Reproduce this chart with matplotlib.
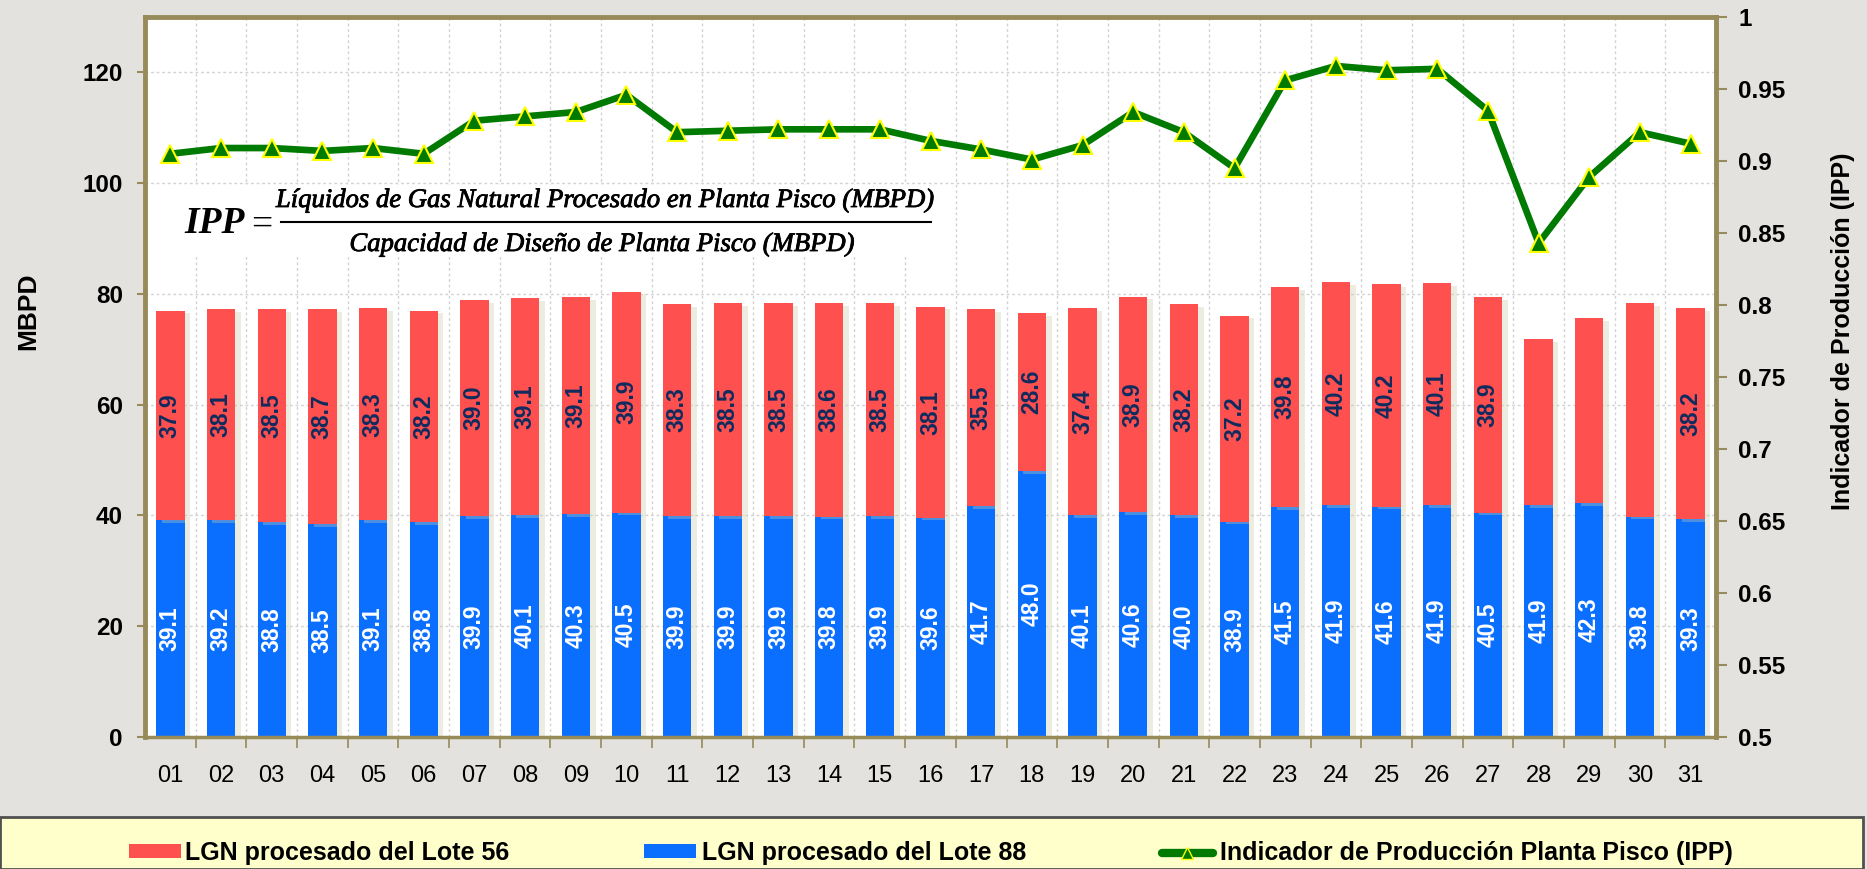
import matplotlib
matplotlib.use("Agg")
import matplotlib.pyplot as plt
import matplotlib.patheffects as pe
from matplotlib.patches import Rectangle
from matplotlib.lines import Line2D
import numpy as np

W, H = 1867, 869

days = ["01", "02", "03", "04", "05", "06", "07", "08", "09", "10",
        "11", "12", "13", "14", "15", "16", "17", "18", "19", "20",
        "21", "22", "23", "24", "25", "26", "27", "28", "29", "30", "31"]
lote88 = [39.1, 39.2, 38.8, 38.5, 39.1, 38.8, 39.9, 40.1, 40.3, 40.5,
          39.9, 39.9, 39.9, 39.8, 39.9, 39.6, 41.7, 48.0, 40.1, 40.6,
          40.0, 38.9, 41.5, 41.9, 41.6, 41.9, 40.5, 41.9, 42.3, 39.8, 39.3]
lote56 = [37.9, 38.1, 38.5, 38.7, 38.3, 38.2, 39.0, 39.1, 39.1, 39.9,
          38.3, 38.5, 38.5, 38.6, 38.5, 38.1, 35.5, 28.6, 37.4, 38.9,
          38.2, 37.2, 39.8, 40.2, 40.2, 40.1, 38.9, 29.9, 33.4, 38.6, 38.2]
# days where the Lote 56 value has no label in the original
unlabeled_56 = ["28", "29", "30"]
ipp = [0.905, 0.909, 0.909, 0.907, 0.909, 0.905, 0.928, 0.931, 0.934, 0.946,
       0.920, 0.921, 0.922, 0.922, 0.922, 0.914, 0.908, 0.901, 0.911, 0.934,
       0.920, 0.895, 0.956, 0.966, 0.963, 0.964, 0.935, 0.843, 0.889, 0.920, 0.912]

RED = "#FF5050"
BLUE = "#0A6EFF"
GREEN = "#007A00"
OLIVE = "#978B5A"
NAVY = "#0F2B5E"
BG = "#E3E2DE"
FONT = "Liberation Sans"


def fx(px):
    return px / W


def fy(py):
    return 1 - py / H


def main() -> None:
    plt.rcParams["font.family"] = FONT
    fig = plt.figure(figsize=(W / 100, H / 100), dpi=100, facecolor=BG)
    ax = fig.add_axes([fx(145), fy(737), fx(1716) - fx(145), fy(17) - fy(737)])
    ax.set_facecolor("white")

    x = np.arange(len(days))
    bw = 0.56
    shadow = [pe.SimplePatchShadow(offset=(4, -2), shadow_rgbFace="#C9CDA8", alpha=0.35),
              pe.Normal()]
    ax.bar(x, lote88, width=bw, color=BLUE, zorder=2, path_effects=shadow)
    ax.bar(x, lote56, width=bw, bottom=lote88, color=RED, zorder=2, path_effects=shadow)

    for i, d in enumerate(days):
        ax.text(x[i], lote88[i] / 2, f"{lote88[i]:.1f}", rotation=90,
                ha="center", va="center", color="white", fontsize=16.5,
                fontweight="bold", zorder=3)
        if d not in unlabeled_56:
            ax.text(x[i], lote88[i] + lote56[i] / 2, f"{lote56[i]:.1f}",
                    rotation=90, ha="center", va="center", color=NAVY,
                    fontsize=16.5, fontweight="bold", zorder=3)

    ax.set_xlim(-0.5, len(days) - 0.5)
    ax.set_ylim(0, 130)
    ax.set_yticks(np.arange(0, 121, 20))
    ax.set_xticks(x)
    ax.set_xticklabels(days, fontsize=17)
    ax.set_xticks(x[:-1] + 0.5, minor=True)
    ax.tick_params(axis="x", which="major", length=0, pad=20)
    ax.tick_params(axis="x", which="minor", length=8, color=OLIVE, width=1.2)
    ax.tick_params(axis="y", length=6, color=OLIVE, width=1.5, pad=10,
                   labelsize=17.5)
    for lab in ax.get_yticklabels():
        lab.set_fontweight("bold")
    ax.grid(axis="y", which="major", color="#D2D2D2", linestyle=(0, (2, 2)), lw=1)
    ax.grid(axis="x", which="minor", color="#D2D2D2", linestyle=(0, (2, 2)), lw=1)
    ax.set_axisbelow(True)

    for side in ["left", "top", "right"]:
        ax.spines[side].set_color(OLIVE)
        ax.spines[side].set_linewidth(3.5)
    ax.spines["bottom"].set_color(OLIVE)
    ax.spines["bottom"].set_linewidth(2.5)

    ax2 = ax.twinx()
    ax2.plot(x, ipp, color=GREEN, lw=4.8, marker="^", markersize=13,
             markerfacecolor=GREEN, markeredgecolor="#FFFF00",
             markeredgewidth=1.5, solid_joinstyle="miter", zorder=5)
    ax2.set_ylim(0.5, 1.0)
    ticks2 = np.round(np.arange(0.5, 1.001, 0.05), 2)
    ax2.set_yticks(ticks2)
    ax2.set_yticklabels([f"{v:g}" for v in ticks2])
    ax2.tick_params(axis="y", length=8, color=OLIVE, width=1.5, pad=8,
                    labelsize=17.5)
    for lab in ax2.get_yticklabels():
        lab.set_fontweight("bold")
    for side in ["left", "top", "right", "bottom"]:
        ax2.spines[side].set_visible(False)

    fig.text(fx(28), fy(311), "MBPD", rotation=90, ha="center", va="center",
             fontsize=19, fontweight="bold")
    fig.text(fx(1843), fy(331), "Indicador de Producción (IPP)", rotation=90,
             ha="center", va="center", fontsize=18, fontweight="bold")

    # formula box
    fig.add_artist(Rectangle((fx(172), fy(257)), fx(945) - fx(172),
                             fy(185) - fy(257), transform=fig.transFigure,
                             facecolor="white", edgecolor="none", zorder=6))
    serif = dict(family="Liberation Serif", style="italic", zorder=7)
    heavy = [pe.withStroke(linewidth=0.6, foreground="black")]
    fig.text(fx(184), fy(233), "IPP", ha="left", va="baseline", fontsize=27,
             fontweight="bold", **serif)
    fig.text(fx(251), fy(221), "=", ha="left", va="center_baseline", fontsize=27,
             family="Liberation Serif", zorder=7)
    fig.add_artist(Line2D([fx(281), fx(931)], [fy(221.5), fy(221.5)],
                          transform=fig.transFigure, color="black", lw=1.5, zorder=7))
    fig.text(fx(605), fy(207), "Líquidos de Gas Natural Procesado en Planta Pisco (MBPD)",
             ha="center", va="baseline", fontsize=19.2, path_effects=heavy, **serif)
    fig.text(fx(602), fy(251), "Capacidad de Diseño de Planta Pisco (MBPD)",
             ha="center", va="baseline", fontsize=19.2, path_effects=heavy, **serif)

    # legend box
    fig.add_artist(Rectangle((0, 0), fx(1863), fy(817), transform=fig.transFigure,
                             facecolor="#FFFFCC", edgecolor="#505050", lw=2, zorder=1))
    ly = fy(853)
    fig.add_artist(Rectangle((fx(129), fy(858)), fx(52), 14 / H,
                             transform=fig.transFigure, facecolor=RED,
                             edgecolor="none", zorder=2))
    fig.text(fx(185), ly, "LGN procesado del Lote 56", ha="left", va="center",
             fontsize=18, fontweight="bold")
    fig.add_artist(Rectangle((fx(644), fy(858)), fx(52), 14 / H,
                             transform=fig.transFigure, facecolor=BLUE,
                             edgecolor="none", zorder=2))
    fig.text(fx(702), ly, "LGN procesado del Lote 88", ha="left", va="center",
             fontsize=18, fontweight="bold")
    fig.add_artist(Line2D([fx(1162), fx(1213)], [ly, ly], transform=fig.transFigure,
                          color=GREEN, lw=6, solid_capstyle="round", zorder=2))
    fig.add_artist(Line2D([fx(1187)], [ly], transform=fig.transFigure, marker="^",
                          markersize=9, markerfacecolor=GREEN,
                          markeredgecolor="#FFFF00", markeredgewidth=1, zorder=3))
    fig.text(fx(1220), ly, "Indicador de Producción Planta Pisco (IPP)", ha="left",
             va="center", fontsize=18, fontweight="bold")

    fig.savefig("out.png", dpi=100, facecolor=BG)


if __name__ == "__main__":
    main()
